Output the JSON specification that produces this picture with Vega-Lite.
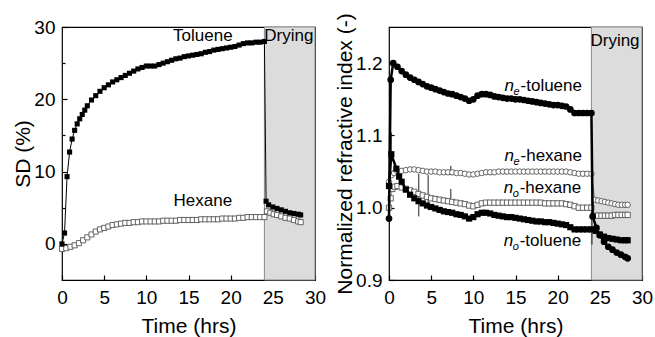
{
  "$schema": "https://vega.github.io/schema/vega-lite/v6.json",
  "background": "white",
  "padding": {"left": 12, "top": 12, "right": 0, "bottom": 0},
  "config": {
    "font": "Liberation Sans",
    "view": {"stroke": "#000", "strokeWidth": 1.2},
    "axis": {"domain": false, "grid": false, "labelFont": "Liberation Sans", "labelFontSize": 19, "labelColor": "#000", "titleFont": "Liberation Sans", "titleFontSize": 21, "titleFontWeight": "normal", "titleColor": "#000", "tickColor": "#000", "tickWidth": 1.2, "labelFlush": false, "labelOverlap": false},
    "concat": {"spacing": 6}
  },
  "datasets": {
    "sd": [
      {"s":"Toluene","t":0,"v":0},{"s":"Toluene","t":0.3,"v":1.5},{"s":"Toluene","t":0.6,"v":9.3},{"s":"Toluene","t":0.9,"v":12.7},{"s":"Toluene","t":1.2,"v":14.5},{"s":"Toluene","t":1.5,"v":15.7},{"s":"Toluene","t":1.8,"v":16.6},{"s":"Toluene","t":2.1,"v":17.3},{"s":"Toluene","t":2.4,"v":17.9},{"s":"Toluene","t":2.7,"v":18.5},{"s":"Toluene","t":3.0,"v":19.1},{"s":"Toluene","t":3.5,"v":19.9},{"s":"Toluene","t":4,"v":20.5},{"s":"Toluene","t":4.5,"v":21.1},{"s":"Toluene","t":5,"v":21.6},{"s":"Toluene","t":5.5,"v":22.0},{"s":"Toluene","t":6,"v":22.4},{"s":"Toluene","t":6.5,"v":22.7},{"s":"Toluene","t":7,"v":23.0},{"s":"Toluene","t":7.5,"v":23.3},{"s":"Toluene","t":8,"v":23.6},{"s":"Toluene","t":8.5,"v":23.9},{"s":"Toluene","t":9,"v":24.2},{"s":"Toluene","t":9.5,"v":24.4},{"s":"Toluene","t":10,"v":24.6},{"s":"Toluene","t":10.5,"v":24.6},{"s":"Toluene","t":11,"v":24.6},{"s":"Toluene","t":11.5,"v":24.8},{"s":"Toluene","t":12,"v":25.0},{"s":"Toluene","t":12.5,"v":25.2},{"s":"Toluene","t":13,"v":25.4},{"s":"Toluene","t":13.5,"v":25.6},{"s":"Toluene","t":14,"v":25.7},{"s":"Toluene","t":14.5,"v":25.9},{"s":"Toluene","t":15,"v":26.0},{"s":"Toluene","t":15.5,"v":26.1},{"s":"Toluene","t":16,"v":26.2},{"s":"Toluene","t":16.5,"v":26.3},{"s":"Toluene","t":17,"v":26.5},{"s":"Toluene","t":17.5,"v":26.6},{"s":"Toluene","t":18,"v":26.8},{"s":"Toluene","t":18.5,"v":26.9},{"s":"Toluene","t":19,"v":27.0},{"s":"Toluene","t":19.5,"v":27.1},{"s":"Toluene","t":20,"v":27.2},{"s":"Toluene","t":20.5,"v":27.3},{"s":"Toluene","t":21,"v":27.5},{"s":"Toluene","t":21.5,"v":27.7},{"s":"Toluene","t":22,"v":27.8},{"s":"Toluene","t":22.5,"v":27.8},{"s":"Toluene","t":23,"v":27.9},{"s":"Toluene","t":23.5,"v":27.9},{"s":"Toluene","t":24,"v":28.0},{"s":"Toluene","t":24.2,"v":5.9},{"s":"Toluene","t":24.5,"v":5.4},{"s":"Toluene","t":25,"v":5.1},{"s":"Toluene","t":25.5,"v":4.9},{"s":"Toluene","t":26,"v":4.7},{"s":"Toluene","t":26.5,"v":4.5},{"s":"Toluene","t":27,"v":4.3},{"s":"Toluene","t":27.5,"v":4.2},{"s":"Toluene","t":28,"v":4.1},{"s":"Toluene","t":28.3,"v":4.0},
      {"s":"Hexane","t":0,"v":-0.7},{"s":"Hexane","t":0.5,"v":-0.6},{"s":"Hexane","t":1,"v":-0.4},{"s":"Hexane","t":1.5,"v":-0.2},{"s":"Hexane","t":2,"v":0.1},{"s":"Hexane","t":2.5,"v":0.5},{"s":"Hexane","t":3,"v":0.9},{"s":"Hexane","t":3.5,"v":1.3},{"s":"Hexane","t":4,"v":1.7},{"s":"Hexane","t":4.5,"v":2.0},{"s":"Hexane","t":5,"v":2.2},{"s":"Hexane","t":5.5,"v":2.4},{"s":"Hexane","t":6,"v":2.6},{"s":"Hexane","t":6.5,"v":2.7},{"s":"Hexane","t":7,"v":2.8},{"s":"Hexane","t":7.5,"v":2.9},{"s":"Hexane","t":8,"v":2.9},{"s":"Hexane","t":8.5,"v":3.0},{"s":"Hexane","t":9,"v":3.0},{"s":"Hexane","t":9.5,"v":3.1},{"s":"Hexane","t":10,"v":3.1},{"s":"Hexane","t":10.5,"v":3.1},{"s":"Hexane","t":11,"v":3.1},{"s":"Hexane","t":11.5,"v":3.1},{"s":"Hexane","t":12,"v":3.2},{"s":"Hexane","t":12.5,"v":3.2},{"s":"Hexane","t":13,"v":3.2},{"s":"Hexane","t":13.5,"v":3.2},{"s":"Hexane","t":14,"v":3.3},{"s":"Hexane","t":14.5,"v":3.3},{"s":"Hexane","t":15,"v":3.3},{"s":"Hexane","t":15.5,"v":3.3},{"s":"Hexane","t":16,"v":3.3},{"s":"Hexane","t":16.5,"v":3.4},{"s":"Hexane","t":17,"v":3.4},{"s":"Hexane","t":17.5,"v":3.4},{"s":"Hexane","t":18,"v":3.4},{"s":"Hexane","t":18.5,"v":3.4},{"s":"Hexane","t":19,"v":3.5},{"s":"Hexane","t":19.5,"v":3.5},{"s":"Hexane","t":20,"v":3.5},{"s":"Hexane","t":20.5,"v":3.5},{"s":"Hexane","t":21,"v":3.6},{"s":"Hexane","t":21.5,"v":3.6},{"s":"Hexane","t":22,"v":3.7},{"s":"Hexane","t":22.5,"v":3.7},{"s":"Hexane","t":23,"v":3.7},{"s":"Hexane","t":23.5,"v":3.7},{"s":"Hexane","t":24,"v":3.7},{"s":"Hexane","t":24.3,"v":4.5},{"s":"Hexane","t":24.7,"v":4.3},{"s":"Hexane","t":25.1,"v":4.1},{"s":"Hexane","t":25.5,"v":4.0},{"s":"Hexane","t":26,"v":3.8},{"s":"Hexane","t":26.5,"v":3.6},{"s":"Hexane","t":27,"v":3.5},{"s":"Hexane","t":27.5,"v":3.3},{"s":"Hexane","t":28,"v":3.1},{"s":"Hexane","t":28.3,"v":3.0}
    ],
    "ri": [
      {"s":"neT","t":0,"v":0.985},{"s":"neT","t":0.2,"v":1.177},{"s":"neT","t":0.5,"v":1.2},{"s":"neT","t":1,"v":1.195},{"s":"neT","t":1.5,"v":1.189},{"s":"neT","t":2,"v":1.184},{"s":"neT","t":2.5,"v":1.18},{"s":"neT","t":3,"v":1.177},{"s":"neT","t":3.5,"v":1.174},{"s":"neT","t":4,"v":1.171},{"s":"neT","t":4.5,"v":1.168},{"s":"neT","t":5,"v":1.166},{"s":"neT","t":5.5,"v":1.164},{"s":"neT","t":6,"v":1.162},{"s":"neT","t":6.5,"v":1.16},{"s":"neT","t":7,"v":1.158},{"s":"neT","t":7.5,"v":1.157},{"s":"neT","t":8,"v":1.155},{"s":"neT","t":8.5,"v":1.153},{"s":"neT","t":9,"v":1.151},{"s":"neT","t":9.5,"v":1.148},{"s":"neT","t":10,"v":1.15},{"s":"neT","t":10.5,"v":1.155},{"s":"neT","t":11,"v":1.157},{"s":"neT","t":11.5,"v":1.157},{"s":"neT","t":12,"v":1.156},{"s":"neT","t":12.5,"v":1.154},{"s":"neT","t":13,"v":1.153},{"s":"neT","t":13.5,"v":1.152},{"s":"neT","t":14,"v":1.151},{"s":"neT","t":14.5,"v":1.151},{"s":"neT","t":15,"v":1.15},{"s":"neT","t":15.5,"v":1.15},{"s":"neT","t":16,"v":1.149},{"s":"neT","t":16.5,"v":1.148},{"s":"neT","t":17,"v":1.147},{"s":"neT","t":17.5,"v":1.146},{"s":"neT","t":18,"v":1.145},{"s":"neT","t":18.5,"v":1.144},{"s":"neT","t":19,"v":1.143},{"s":"neT","t":19.5,"v":1.142},{"s":"neT","t":20,"v":1.142},{"s":"neT","t":20.5,"v":1.141},{"s":"neT","t":21,"v":1.14},{"s":"neT","t":21.5,"v":1.136},{"s":"neT","t":22,"v":1.131},{"s":"neT","t":22.5,"v":1.131},{"s":"neT","t":23,"v":1.131},{"s":"neT","t":23.5,"v":1.131},{"s":"neT","t":24,"v":1.131},{"s":"neT","t":24.15,"v":0.988},{"s":"neT","t":24.6,"v":0.972},{"s":"neT","t":25,"v":0.962},{"s":"neT","t":25.5,"v":0.953},{"s":"neT","t":26,"v":0.946},{"s":"neT","t":26.5,"v":0.942},{"s":"neT","t":27,"v":0.938},{"s":"neT","t":27.5,"v":0.935},{"s":"neT","t":28,"v":0.932},{"s":"neT","t":28.3,"v":0.93},
      {"s":"noT","t":0,"v":1.03},{"s":"noT","t":0.28,"v":1.074},{"s":"noT","t":0.87,"v":1.054},{"s":"noT","t":1.2,"v":1.043},{"s":"noT","t":1.5,"v":1.036},{"s":"noT","t":2,"v":1.025},{"s":"noT","t":2.5,"v":1.018},{"s":"noT","t":3,"v":1.013},{"s":"noT","t":3.5,"v":1.009},{"s":"noT","t":4,"v":1.006},{"s":"noT","t":4.5,"v":1.003},{"s":"noT","t":5,"v":1.001},{"s":"noT","t":5.5,"v":0.999},{"s":"noT","t":6,"v":0.997},{"s":"noT","t":6.5,"v":0.995},{"s":"noT","t":7,"v":0.994},{"s":"noT","t":7.5,"v":0.993},{"s":"noT","t":8,"v":0.991},{"s":"noT","t":8.5,"v":0.99},{"s":"noT","t":9,"v":0.988},{"s":"noT","t":9.5,"v":0.985},{"s":"noT","t":10,"v":0.987},{"s":"noT","t":10.5,"v":0.991},{"s":"noT","t":11,"v":0.993},{"s":"noT","t":11.5,"v":0.993},{"s":"noT","t":12,"v":0.992},{"s":"noT","t":12.5,"v":0.99},{"s":"noT","t":13,"v":0.989},{"s":"noT","t":13.5,"v":0.988},{"s":"noT","t":14,"v":0.987},{"s":"noT","t":14.5,"v":0.987},{"s":"noT","t":15,"v":0.986},{"s":"noT","t":15.5,"v":0.985},{"s":"noT","t":16,"v":0.984},{"s":"noT","t":16.5,"v":0.983},{"s":"noT","t":17,"v":0.982},{"s":"noT","t":17.5,"v":0.981},{"s":"noT","t":18,"v":0.981},{"s":"noT","t":18.5,"v":0.98},{"s":"noT","t":19,"v":0.98},{"s":"noT","t":19.5,"v":0.979},{"s":"noT","t":20,"v":0.978},{"s":"noT","t":20.5,"v":0.977},{"s":"noT","t":21,"v":0.976},{"s":"noT","t":21.5,"v":0.973},{"s":"noT","t":22,"v":0.97},{"s":"noT","t":22.5,"v":0.97},{"s":"noT","t":23,"v":0.97},{"s":"noT","t":23.5,"v":0.97},{"s":"noT","t":24,"v":0.97},{"s":"noT","t":24.5,"v":0.968},{"s":"noT","t":25,"v":0.963},{"s":"noT","t":25.5,"v":0.96},{"s":"noT","t":26,"v":0.958},{"s":"noT","t":26.5,"v":0.957},{"s":"noT","t":27,"v":0.956},{"s":"noT","t":27.5,"v":0.955},{"s":"noT","t":28,"v":0.955},{"s":"noT","t":28.3,"v":0.955},
      {"s":"neH","t":0,"v":1.036},{"s":"neH","t":0.3,"v":1.045},{"s":"neH","t":0.6,"v":1.048},{"s":"neH","t":1,"v":1.05},{"s":"neH","t":1.5,"v":1.051},{"s":"neH","t":2,"v":1.052},{"s":"neH","t":2.5,"v":1.053},{"s":"neH","t":3,"v":1.053},{"s":"neH","t":3.5,"v":1.052},{"s":"neH","t":4,"v":1.051},{"s":"neH","t":4.5,"v":1.05},{"s":"neH","t":5,"v":1.05},{"s":"neH","t":5.5,"v":1.05},{"s":"neH","t":6,"v":1.049},{"s":"neH","t":6.5,"v":1.049},{"s":"neH","t":7,"v":1.049},{"s":"neH","t":7.5,"v":1.049},{"s":"neH","t":8,"v":1.048},{"s":"neH","t":8.5,"v":1.048},{"s":"neH","t":9,"v":1.047},{"s":"neH","t":9.5,"v":1.046},{"s":"neH","t":10,"v":1.046},{"s":"neH","t":10.5,"v":1.047},{"s":"neH","t":11,"v":1.048},{"s":"neH","t":11.5,"v":1.049},{"s":"neH","t":12,"v":1.049},{"s":"neH","t":12.5,"v":1.049},{"s":"neH","t":13,"v":1.05},{"s":"neH","t":13.5,"v":1.05},{"s":"neH","t":14,"v":1.05},{"s":"neH","t":14.5,"v":1.05},{"s":"neH","t":15,"v":1.05},{"s":"neH","t":15.5,"v":1.05},{"s":"neH","t":16,"v":1.05},{"s":"neH","t":16.5,"v":1.05},{"s":"neH","t":17,"v":1.05},{"s":"neH","t":17.5,"v":1.05},{"s":"neH","t":18,"v":1.05},{"s":"neH","t":18.5,"v":1.05},{"s":"neH","t":19,"v":1.05},{"s":"neH","t":19.5,"v":1.05},{"s":"neH","t":20,"v":1.05},{"s":"neH","t":20.5,"v":1.05},{"s":"neH","t":21,"v":1.05},{"s":"neH","t":21.5,"v":1.049},{"s":"neH","t":22,"v":1.048},{"s":"neH","t":22.5,"v":1.047},{"s":"neH","t":23,"v":1.047},{"s":"neH","t":23.5,"v":1.047},{"s":"neH","t":24,"v":1.047},{"s":"neH","t":24.4,"v":1.011},{"s":"neH","t":24.8,"v":1.01},{"s":"neH","t":25.2,"v":1.009},{"s":"neH","t":25.6,"v":1.008},{"s":"neH","t":26,"v":1.007},{"s":"neH","t":26.4,"v":1.006},{"s":"neH","t":26.8,"v":1.005},{"s":"neH","t":27.2,"v":1.004},{"s":"neH","t":27.6,"v":1.004},{"s":"neH","t":28,"v":1.004},{"s":"neH","t":28.3,"v":1.004},
      {"s":"noH","t":0,"v":1.0},{"s":"noH","t":0.2,"v":1.013},{"s":"noH","t":0.4,"v":1.026},{"s":"noH","t":0.7,"v":1.029},{"s":"noH","t":1,"v":1.03},{"s":"noH","t":1.5,"v":1.028},{"s":"noH","t":2,"v":1.026},{"s":"noH","t":2.5,"v":1.024},{"s":"noH","t":3,"v":1.022},{"s":"noH","t":3.5,"v":1.019},{"s":"noH","t":4,"v":1.017},{"s":"noH","t":4.5,"v":1.015},{"s":"noH","t":5,"v":1.013},{"s":"noH","t":5.5,"v":1.012},{"s":"noH","t":6,"v":1.011},{"s":"noH","t":6.5,"v":1.01},{"s":"noH","t":7,"v":1.009},{"s":"noH","t":7.5,"v":1.008},{"s":"noH","t":8,"v":1.007},{"s":"noH","t":8.5,"v":1.006},{"s":"noH","t":9,"v":1.005},{"s":"noH","t":9.5,"v":1.003},{"s":"noH","t":10,"v":1.002},{"s":"noH","t":10.5,"v":1.004},{"s":"noH","t":11,"v":1.006},{"s":"noH","t":11.5,"v":1.007},{"s":"noH","t":12,"v":1.007},{"s":"noH","t":12.5,"v":1.007},{"s":"noH","t":13,"v":1.007},{"s":"noH","t":13.5,"v":1.007},{"s":"noH","t":14,"v":1.007},{"s":"noH","t":14.5,"v":1.007},{"s":"noH","t":15,"v":1.007},{"s":"noH","t":15.5,"v":1.007},{"s":"noH","t":16,"v":1.007},{"s":"noH","t":16.5,"v":1.007},{"s":"noH","t":17,"v":1.007},{"s":"noH","t":17.5,"v":1.007},{"s":"noH","t":18,"v":1.007},{"s":"noH","t":18.5,"v":1.006},{"s":"noH","t":19,"v":1.006},{"s":"noH","t":19.5,"v":1.006},{"s":"noH","t":20,"v":1.006},{"s":"noH","t":20.5,"v":1.006},{"s":"noH","t":21,"v":1.005},{"s":"noH","t":21.5,"v":1.004},{"s":"noH","t":22,"v":1.002},{"s":"noH","t":22.5,"v":1.0},{"s":"noH","t":23,"v":1.0},{"s":"noH","t":23.5,"v":1.0},{"s":"noH","t":24,"v":1.0},{"s":"noH","t":24.4,"v":0.989},{"s":"noH","t":24.8,"v":0.989},{"s":"noH","t":25.2,"v":0.989},{"s":"noH","t":25.6,"v":0.989},{"s":"noH","t":26,"v":0.989},{"s":"noH","t":26.4,"v":0.989},{"s":"noH","t":26.8,"v":0.99},{"s":"noH","t":27.2,"v":0.99},{"s":"noH","t":27.6,"v":0.99},{"s":"noH","t":28,"v":0.99},{"s":"noH","t":28.3,"v":0.99}
    ],
    "err": [
      {"t":0.27,"lo":1.07,"hi":1.104},{"t":3.53,"lo":0.988,"hi":1.047},{"t":4.64,"lo":0.997,"hi":1.045},{"t":7.33,"lo":1.045,"hi":1.058},{"t":7.33,"lo":1.013,"hi":1.026},{"t":24.07,"lo":0.949,"hi":1.003}
    ],
    "shadeL": [{"t":24,"t2":30,"y1":-5,"y2":30}],
    "shadeR": [{"t":24,"t2":30,"y1":0.9,"y2":1.25}],
    "labL": [{"t":16.7,"v":28.8,"txt":"Toluene"},{"t":16.7,"v":5.9,"txt":"Hexane"},{"t":26.9,"v":28.8,"txt":"Drying"}],
    "labR": [{"t":26.8,"v":1.23,"txt":"Drying"}],
    "labN": [{"t":13.7,"v":1.169,"sub":"e","rest":"-toluene"},{"t":13.7,"v":1.072,"sub":"e","rest":"-hexane"},{"t":13.6,"v":1.027,"sub":"o","rest":"-hexane"},{"t":13.6,"v":0.954,"sub":"o","rest":"-toluene"}]
  },
  "hconcat": [
    {
      "width": 253, "height": 253,
      "layer": [
        {"data": {"name": "shadeL"}, "mark": {"type": "rect", "color": "#dcdcdc", "stroke": "#8a8a8a", "strokeWidth": 1},
         "encoding": {
           "x": {"field": "t", "type": "quantitative", "title": "Time (hrs)", "scale": {"domain": [0, 30]},
                 "axis": {"values": [0,2.5,5,7.5,10,12.5,15,17.5,20,22.5,25,27.5,30], "labelOverlap": false, "labelExpr": "datum.value % 5 === 0 ? '' + datum.value : ''", "tickSize": {"condition": {"test": "datum.value % 5 === 0", "value": -5}, "value": -3}, "labelPadding": 13, "titlePadding": 8}},
           "x2": {"field": "t2"},
           "y": {"field": "y1", "type": "quantitative", "title": "SD (%)", "scale": {"domain": [-5, 30]},
                 "axis": {"values": [0,5,10,15,20,25,30], "labelOverlap": false, "labelExpr": "abs(datum.value/10 - round(datum.value/10)) < 0.001 ? format(datum.value, 'd') : ''", "tickSize": {"condition": {"test": "abs(datum.value/10 - round(datum.value/10)) < 0.001", "value": -5}, "value": -3}, "labelPadding": 12, "titlePadding": 0}},
           "y2": {"field": "y2"}}},
        {"data": {"name": "sd"}, "transform": [{"filter": "datum.s === 'Hexane'"}], "mark": {"type": "line", "color": "#777", "strokeWidth": 0.8},
         "encoding": {"x": {"field": "t", "type": "quantitative", "title": "Time (hrs)"}, "y": {"field": "v", "type": "quantitative", "title": "SD (%)"}}},
        {"data": {"name": "sd"}, "transform": [{"filter": "datum.s === 'Hexane'"}], "mark": {"type": "square", "size": 26, "fill": "white", "stroke": "#555", "strokeWidth": 0.9, "opacity": 1},
         "encoding": {"x": {"field": "t", "type": "quantitative", "title": "Time (hrs)"}, "y": {"field": "v", "type": "quantitative", "title": "SD (%)"}}},
        {"data": {"name": "sd"}, "transform": [{"filter": "datum.s === 'Toluene'"}], "mark": {"type": "line", "color": "#000", "strokeWidth": 1},
         "encoding": {"x": {"field": "t", "type": "quantitative", "title": "Time (hrs)"}, "y": {"field": "v", "type": "quantitative", "title": "SD (%)"}}},
        {"data": {"name": "sd"}, "transform": [{"filter": "datum.s === 'Toluene'"}], "mark": {"type": "square", "size": 26, "color": "#000", "opacity": 1},
         "encoding": {"x": {"field": "t", "type": "quantitative", "title": "Time (hrs)"}, "y": {"field": "v", "type": "quantitative", "title": "SD (%)"}}},
        {"data": {"name": "labL"}, "mark": {"type": "text", "fontSize": 17, "font": "Liberation Sans", "color": "#000", "align": "center", "baseline": "middle"},
         "encoding": {"x": {"field": "t", "type": "quantitative", "title": "Time (hrs)"}, "y": {"field": "v", "type": "quantitative", "title": "SD (%)"}, "text": {"field": "txt"}}}
      ]
    },
    {
      "width": 253, "height": 253,
      "layer": [
        {"data": {"name": "shadeR"}, "mark": {"type": "rect", "color": "#dcdcdc", "stroke": "#8a8a8a", "strokeWidth": 1},
         "encoding": {
           "x": {"field": "t", "type": "quantitative", "title": "Time (hrs)", "scale": {"domain": [0, 30]},
                 "axis": {"values": [0,2.5,5,7.5,10,12.5,15,17.5,20,22.5,25,27.5,30], "labelOverlap": false, "labelExpr": "datum.value % 5 === 0 ? '' + datum.value : ''", "tickSize": {"condition": {"test": "datum.value % 5 === 0", "value": -5}, "value": -3}, "labelPadding": 13, "titlePadding": 8}},
           "x2": {"field": "t2"},
           "y": {"field": "y1", "type": "quantitative", "title": "Normalized refractive index (-)", "scale": {"domain": [0.9, 1.25]},
                 "axis": {"values": [0.9,0.95,1.0,1.05,1.1,1.15,1.2,1.25], "labelOverlap": false, "labelExpr": "abs(datum.value*10 - round(datum.value*10)) < 0.001 && datum.value < 1.22 ? format(datum.value, '.1f') : ''", "tickSize": {"condition": {"test": "abs(datum.value*10 - round(datum.value*10)) < 0.001", "value": -5}, "value": -3}, "labelPadding": 12, "titlePadding": 0}},
           "y2": {"field": "y2"}}},
        {"data": {"name": "err"}, "mark": {"type": "rule", "color": "#222", "strokeWidth": 1},
         "encoding": {"x": {"field": "t", "type": "quantitative", "title": "Time (hrs)"}, "y": {"field": "lo", "type": "quantitative", "title": "Normalized refractive index (-)"}, "y2": {"field": "hi"}}},
        {"data": {"name": "ri"}, "transform": [{"filter": "datum.s === 'neH' || datum.s === 'noH'"}], "mark": {"type": "line", "color": "#777", "strokeWidth": 0.8},
         "encoding": {"x": {"field": "t", "type": "quantitative", "title": "Time (hrs)"}, "y": {"field": "v", "type": "quantitative", "title": "Normalized refractive index (-)"}, "detail": {"field": "s"}}},
        {"data": {"name": "ri"}, "transform": [{"filter": "datum.s === 'neH'"}], "mark": {"type": "circle", "size": 30, "fill": "white", "stroke": "#555", "strokeWidth": 0.9, "opacity": 1},
         "encoding": {"x": {"field": "t", "type": "quantitative", "title": "Time (hrs)"}, "y": {"field": "v", "type": "quantitative", "title": "Normalized refractive index (-)"}}},
        {"data": {"name": "ri"}, "transform": [{"filter": "datum.s === 'noH'"}], "mark": {"type": "square", "size": 28, "fill": "white", "stroke": "#555", "strokeWidth": 0.9, "opacity": 1},
         "encoding": {"x": {"field": "t", "type": "quantitative", "title": "Time (hrs)"}, "y": {"field": "v", "type": "quantitative", "title": "Normalized refractive index (-)"}}},
        {"data": {"name": "ri"}, "transform": [{"filter": "datum.s === 'neT' || datum.s === 'noT'"}], "mark": {"type": "line", "color": "#000", "strokeWidth": 2.5},
         "encoding": {"x": {"field": "t", "type": "quantitative", "title": "Time (hrs)"}, "y": {"field": "v", "type": "quantitative", "title": "Normalized refractive index (-)"}, "detail": {"field": "s"}}},
        {"data": {"name": "ri"}, "transform": [{"filter": "datum.s === 'neT'"}], "mark": {"type": "circle", "size": 45, "color": "#000", "opacity": 1},
         "encoding": {"x": {"field": "t", "type": "quantitative", "title": "Time (hrs)"}, "y": {"field": "v", "type": "quantitative", "title": "Normalized refractive index (-)"}}},
        {"data": {"name": "ri"}, "transform": [{"filter": "datum.s === 'noT'"}], "mark": {"type": "square", "size": 38, "color": "#000", "opacity": 1},
         "encoding": {"x": {"field": "t", "type": "quantitative", "title": "Time (hrs)"}, "y": {"field": "v", "type": "quantitative", "title": "Normalized refractive index (-)"}}},
        {"data": {"name": "labR"}, "mark": {"type": "text", "fontSize": 17, "font": "Liberation Sans", "color": "#000", "align": "center", "baseline": "middle"},
         "encoding": {"x": {"field": "t", "type": "quantitative", "title": "Time (hrs)"}, "y": {"field": "v", "type": "quantitative", "title": "Normalized refractive index (-)"}, "text": {"field": "txt"}}},
        {"data": {"name": "labN"}, "mark": {"type": "text", "text": "n", "fontSize": 17, "fontStyle": "italic", "font": "Liberation Sans", "color": "#000", "align": "left", "baseline": "middle"},
         "encoding": {"x": {"field": "t", "type": "quantitative", "title": "Time (hrs)"}, "y": {"field": "v", "type": "quantitative", "title": "Normalized refractive index (-)"}}},
        {"data": {"name": "labN"}, "mark": {"type": "text", "fontSize": 11, "fontStyle": "italic", "font": "Liberation Sans", "color": "#000", "align": "left", "baseline": "middle", "dx": 9, "dy": 6},
         "encoding": {"x": {"field": "t", "type": "quantitative", "title": "Time (hrs)"}, "y": {"field": "v", "type": "quantitative", "title": "Normalized refractive index (-)"}, "text": {"field": "sub"}}},
        {"data": {"name": "labN"}, "mark": {"type": "text", "fontSize": 17, "font": "Liberation Sans", "color": "#000", "align": "left", "baseline": "middle", "dx": 16},
         "encoding": {"x": {"field": "t", "type": "quantitative", "title": "Time (hrs)"}, "y": {"field": "v", "type": "quantitative", "title": "Normalized refractive index (-)"}, "text": {"field": "rest"}}}
      ]
    }
  ]
}
